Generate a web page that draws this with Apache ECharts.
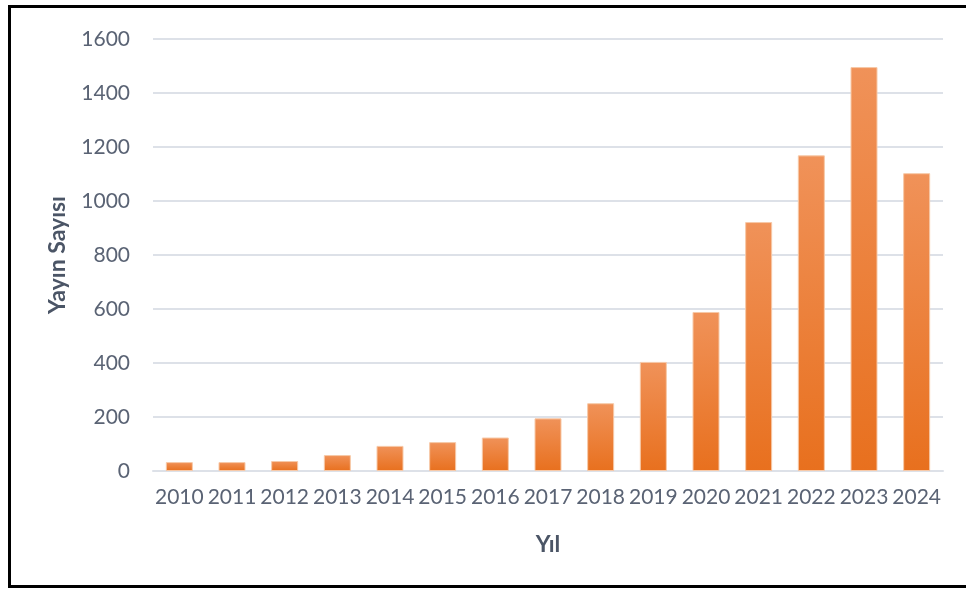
<!DOCTYPE html>
<html>
<head>
<meta charset="utf-8">
<script src="https://cdn.jsdelivr.net/npm/echarts@6/dist/echarts.min.js"></script>
<style>
  html, body { margin: 0; padding: 0; background: #fff; }
  #chart { width: 966px; height: 592px; }
</style>
</head>
<body>
<div id="chart"></div>
<script>
const years = ["2010", "2011", "2012", "2013", "2014", "2015", "2016", "2017", "2018", "2019", "2020", "2021", "2022", "2023", "2024"];
const counts = [33, 33, 37, 59, 93, 107, 124, 195, 251, 404, 589, 922, 1169, 1496, 1103];

const textColor = "#5a6374";
const gridColor = "#dde1e8";

const chart = echarts.init(document.getElementById("chart"));

chart.setOption({
  animation: false,
  textStyle: { fontFamily: "Lato" },
  grid: { left: 153, right: 23, top: 39, bottom: 121 },
  graphic: [
    {
      type: "rect",
      shape: { x: 9.5, y: 6.5, width: 1000, height: 580 },
      style: { fill: "none", stroke: "#000", lineWidth: 3 },
      silent: true,
    },
  ],
  xAxis: {
    type: "category",
    data: years,
    name: "Yıl",
    nameLocation: "middle",
    nameGap: 62,
    nameTextStyle: { color: "#4b5566", fontSize: 23, fontWeight: "bold" },
    axisLine: { lineStyle: { color: gridColor, width: 2 } },
    axisTick: { show: false },
    axisLabel: { color: textColor, fontSize: 21, margin: 16, interval: 0 },
  },
  yAxis: {
    type: "value",
    min: 0,
    max: 1600,
    interval: 200,
    name: "Yayın Sayısı",
    nameLocation: "middle",
    nameGap: 84,
    nameTextStyle: { color: "#4b5566", fontSize: 23, fontWeight: "bold" },
    axisLine: { show: false },
    axisTick: { show: false },
    axisLabel: { color: textColor, fontSize: 21, margin: 23, formatter: (v) => String(v) },
    splitLine: { lineStyle: { color: gridColor, width: 2 } },
  },
  series: [
    {
      type: "bar",
      data: counts,
      barWidth: 27,
      itemStyle: {
        color: new echarts.graphic.LinearGradient(0, 0, 0, 1, [
          { offset: 0, color: "#f09259" },
          { offset: 1, color: "#e8701e" },
        ]),
        borderColor: "#f7c9a8",
        borderWidth: 1,
      },
    },
  ],
});
</script>
</body>
</html>
